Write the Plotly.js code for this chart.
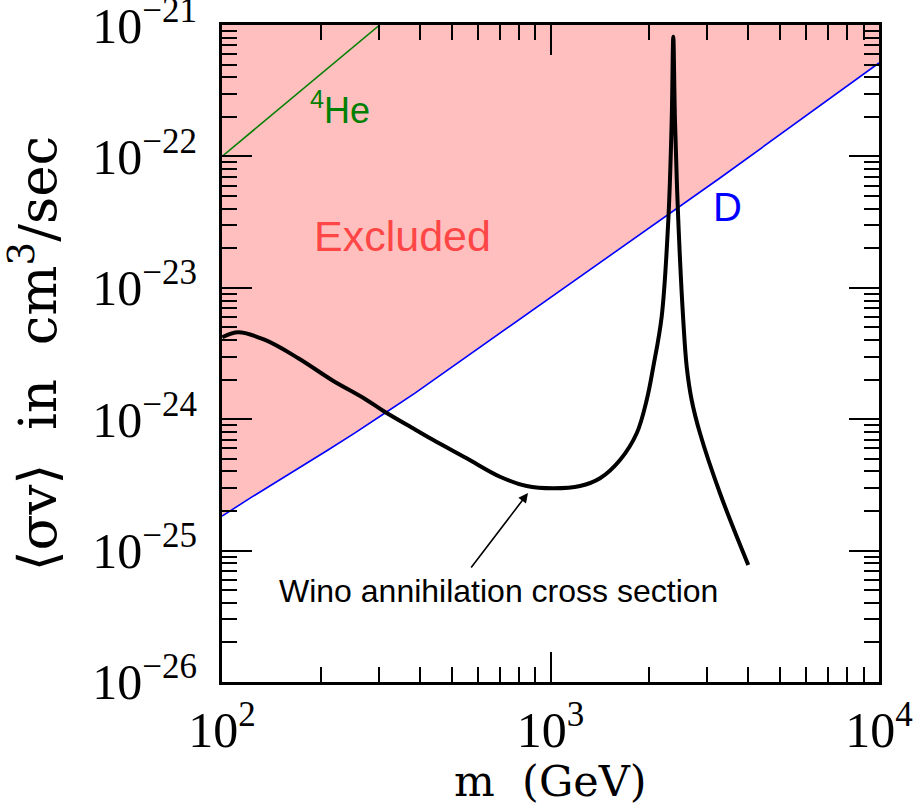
<!DOCTYPE html>
<html>
<head>
<meta charset="utf-8">
<script src="https://cdn.plot.ly/plotly-3.0.1.min.js"></script>
<style>html,body{margin:0;padding:0;background:#fff;}#chart{width:920px;height:811px;}</style>
</head>
<body>
<div id="chart"></div>
<script>
// Deuterium (D) bound: excluded above this line
const dMass = [100, 123.4, 210.2, 254, 313.5, 386.8, 3281, 10000];
const dSigma = [1.83e-25, 2.56e-25, 5.83e-25, 7.86e-25, 1.114e-24, 1.58e-24, 6.85e-23, 5.14e-22];

// 4He bound
const heMass = [100, 302];
const heSigma = [1e-22, 1e-21];

// Top edge of excluded band
const topMass = [100, 10000];
const topSigma = [1e-21, 1e-21];

// Wino annihilation cross section
const winoMass = [100.2, 112.1, 135.2, 170.7, 215.8, 272.5, 313.5, 386.8, 439.8, 555.7, 702, 846.3, 1020, 1230, 1415, 1628, 1830, 1963, 2056, 2180, 2284, 2339, 2365, 2393, 2449, 2536, 2598, 2690, 2852, 3281, 4000];
const winoSigma = [4.20e-24, 4.58e-24, 4.01e-24, 2.91e-24, 1.99e-24, 1.426e-24, 1.135e-24, 8.36e-25, 6.94e-25, 5.04e-25, 3.65e-25, 3.10e-25, 2.98e-25, 3.10e-25, 3.55e-25, 4.89e-25, 7.81e-25, 1.40e-24, 2.51e-24, 6.03e-24, 3.28e-23, 1.89e-22, 8.13e-22, 1.89e-22, 3.28e-23, 5.69e-24, 2.51e-24, 1.40e-24, 7.81e-25, 2.73e-25, 7.77e-26];

const xTitle = 'm&nbsp; (GeV)';
const yTitle = '⟨σv⟩&nbsp; in&nbsp; cm<sup>3</sup>/sec';

const serif = 'Liberation Serif, DejaVu Serif, serif';
const wideSerif = 'DejaVu Serif, Liberation Serif, serif';
const sans = 'Liberation Sans, Arial, sans-serif';

const traces = [
  {x: topMass, y: topSigma, mode: 'lines', line: {width: 0, color: 'rgba(0,0,0,0)'}, showlegend: false, hoverinfo: 'skip'},
  {x: dMass, y: dSigma, mode: 'lines', fill: 'tonexty', fillcolor: '#ffbfbf', line: {color: '#0000ff', width: 1.6}, showlegend: false},
  {x: heMass, y: heSigma, mode: 'lines', line: {color: '#008000', width: 1.6}, showlegend: false},
  {x: winoMass, y: winoSigma, mode: 'lines', line: {color: '#000000', width: 4, shape: 'spline', smoothing: 1}, showlegend: false}
];

const axisCommon = {
  type: 'log', dtick: 1, exponentformat: 'power', showgrid: false, zeroline: false,
  showline: true, linecolor: '#000', linewidth: 3, mirror: 'allticks',
  ticks: 'inside', ticklen: 30, tickwidth: 2, tickcolor: '#000',
  ticklabeloverflow: 'allow',
  tickfont: {family: serif, size: 40, color: '#000'},
  minor: {ticks: 'inside', ticklen: 15, tickwidth: 2, tickcolor: '#000', dtick: 'D1', showgrid: false}
};

const layout = {
  width: 920, height: 811,
  margin: {l: 222, r: 41, t: 25, b: 129},
  paper_bgcolor: '#fff', plot_bgcolor: '#fff',
  showlegend: false,
  xaxis: Object.assign({}, axisCommon, {
    range: [1.9999, 4.0001], ticklabelstandoff: 4
  }),
  yaxis: Object.assign({}, axisCommon, {
    range: [-26.0001, -20.9999], ticklabelstandoff: 14,
    title: {text: yTitle, font: {family: wideSerif, size: 53, color: '#000'}, standoff: 20}
  }),
  annotations: [
    {x: 0.5, y: -0.151, xref: 'paper', yref: 'paper', xanchor: 'center', yanchor: 'middle', text: xTitle, showarrow: false, font: {family: wideSerif, size: 43, color: '#000'}},
    {x: 2.548, y: -22.606, xref: 'x', yref: 'y', text: 'Excluded', showarrow: false, font: {family: sans, size: 43, color: '#ff4646'}},
    {x: 3.540, y: -22.385, xref: 'x', yref: 'y', text: 'D', showarrow: false, font: {family: sans, size: 40, color: '#0000ff'}},
    {x: 2.36, y: -21.632, xref: 'x', yref: 'y', text: '<sup>4</sup>He', showarrow: false, font: {family: sans, size: 36, color: '#008000'}},
    {x: 2.843, y: -25.307, xref: 'x', yref: 'y', text: 'Wino annihilation cross section', showarrow: false, font: {family: sans, size: 32, color: '#000'}},
    {x: 2.9315, y: -24.5616, xref: 'x', yref: 'y', ax: 2.755, ay: -25.140, axref: 'x', ayref: 'y', text: '', showarrow: true, arrowhead: 2, arrowsize: 1.2, arrowwidth: 1.6, arrowcolor: '#000'}
  ]
};

Plotly.newPlot('chart', traces, layout, {staticPlot: true, displayModeBar: false});
</script>
</body>
</html>
